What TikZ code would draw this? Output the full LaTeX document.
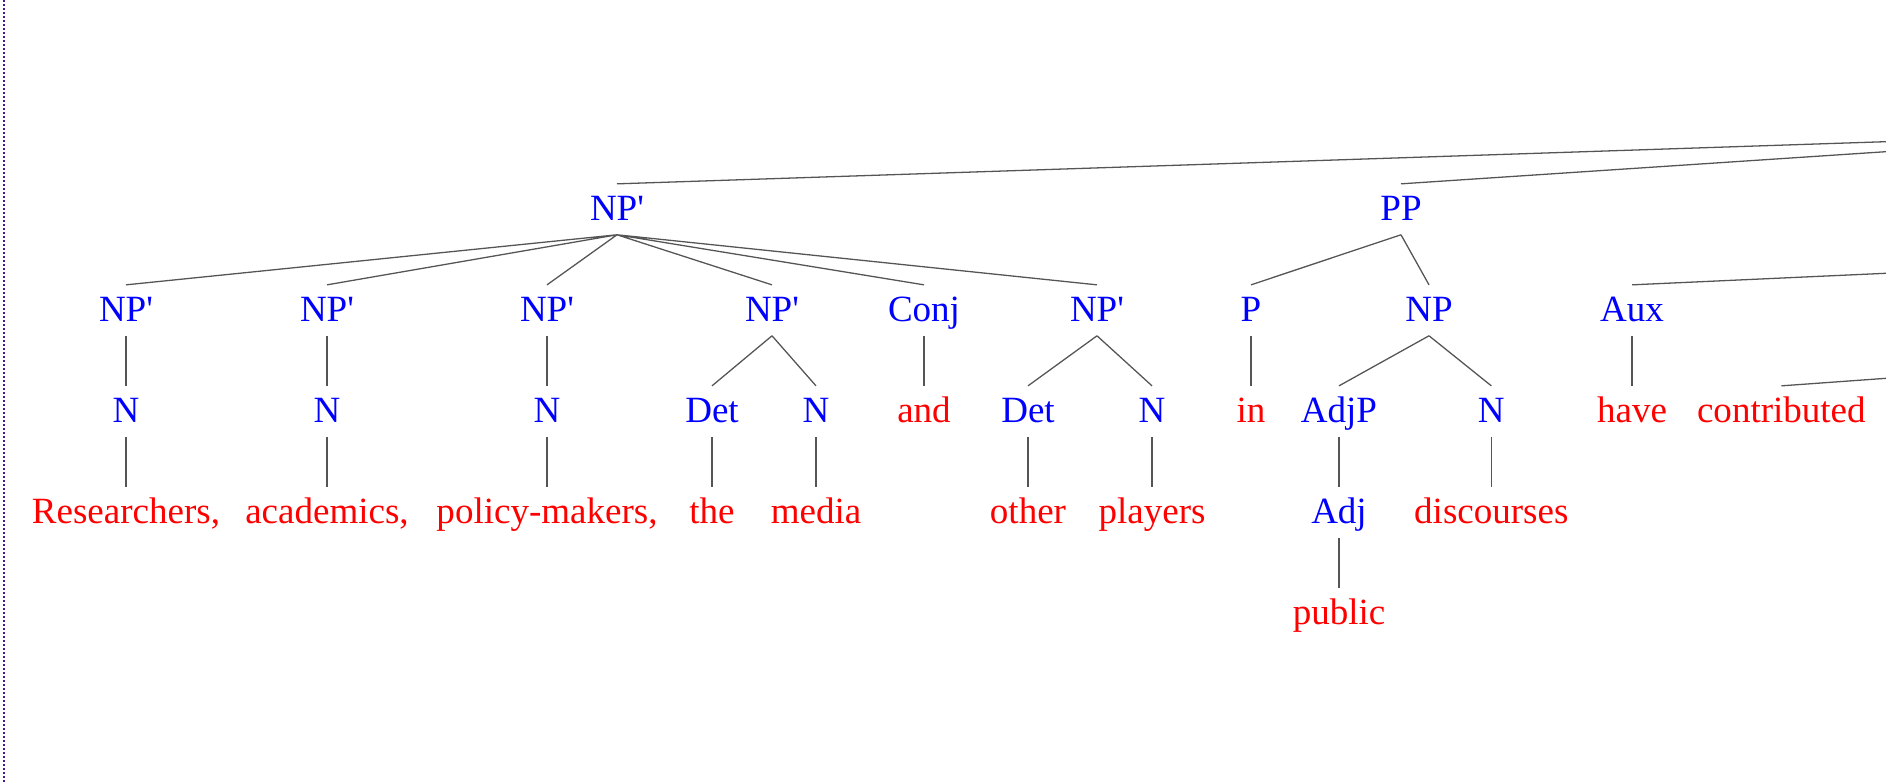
\documentclass[tikz,border=0pt]{standalone}
\usepackage{fontspec}
\setmainfont{Liberation Serif}
\usepackage{tikz}

\definecolor{catblue}{RGB}{0,0,255}
\definecolor{wordred}{RGB}{255,0,0}
\definecolor{branchgray}{RGB}{85,85,85}
\definecolor{framepurple}{RGB}{75,25,140}

\begin{document}
\begin{tikzpicture}[
  lbl/.style={anchor=base, inner sep=0pt, text height=0.55cm, text depth=0.2cm, font=\fontsize{15.8}{18}\selectfont},
  cat/.style={lbl, text=catblue},
  word/.style={lbl, text=wordred},
  branch/.style={draw=branchgray, line width=0.55pt}]
\useasboundingbox (0,0) rectangle (28.29,11.76);
\draw[framepurple, line width=0.03cm, dash pattern=on 0.03cm off 0.03cm] (0.06,11.76) -- (0.06,0);

% Nível 0
\node[cat] (np1) at (9.255,8.445) {NP\textquotesingle};
\node[cat] (pp) at (21.015,8.445) {PP};

% Nível 1
\node[cat] (npA) at (1.89,6.93) {NP\textquotesingle};
\node[cat] (npB) at (4.905,6.93) {NP\textquotesingle};
\node[cat] (npC) at (8.205,6.93) {NP\textquotesingle};
\node[cat] (npD) at (11.58,6.93) {NP\textquotesingle};
\node[cat] (conj) at (13.86,6.93) {Conj};
\node[cat] (npE) at (16.455,6.93) {NP\textquotesingle};
\node[cat] (p) at (18.765,6.93) {P};
\node[cat] (np) at (21.435,6.93) {NP};
\node[cat] (aux) at (24.48,6.93) {Aux};

% Nível 2
\node[cat] (nA) at (1.89,5.415) {N};
\node[cat] (nB) at (4.905,5.415) {N};
\node[cat] (nC) at (8.205,5.415) {N};
\node[cat] (detD) at (10.68,5.415) {Det};
\node[cat] (nD) at (12.24,5.415) {N};
\node[word] (and) at (13.86,5.415) {and};
\node[cat] (detE) at (15.42,5.415) {Det};
\node[cat] (nE) at (17.28,5.415) {N};
\node[word] (in) at (18.765,5.415) {in};
\node[cat] (adjp) at (20.085,5.415) {AdjP};
\node[cat] (nF) at (22.37,5.415) {N};
\node[word] (have) at (24.48,5.415) {have};
\node[word] (contrib) at (26.72,5.415) {contributed};

% Nível 3
\node[word] (researchers) at (1.89,3.90) {Researchers,};
\node[word] (academics) at (4.905,3.90) {academics,};
\node[word] (policymakers) at (8.205,3.90) {policy-makers,};
\node[word] (the) at (10.68,3.90) {the};
\node[word] (media) at (12.24,3.90) {media};
\node[word] (other) at (15.42,3.90) {other};
\node[word] (players) at (17.28,3.90) {players};
\node[cat] (adj) at (20.085,3.90) {Adj};
\node[word] (discourses) at (22.37,3.90) {discourses};

% Nível 4
\node[word] (public) at (20.085,2.385) {public};

% Pais fora da figura (borda direita)
\coordinate (upS) at (28.29,9.6345);
\coordinate (upS2) at (28.29,9.4845);
\coordinate (upVP) at (28.29,7.6605);
\coordinate (upV) at (28.29,6.085);

\draw[branch] (np1.north) -- (upS);
\draw[branch] (pp.north) -- (upS2);
\draw[branch] (aux.north) -- (upVP);
\draw[branch] (contrib.north) -- (upV);

\draw[branch] (np1.south) -- (npA.north) (np1.south) -- (npB.north) (np1.south) -- (npC.north)
  (np1.south) -- (npD.north) (np1.south) -- (conj.north) (np1.south) -- (npE.north);
\draw[branch] (pp.south) -- (p.north) (pp.south) -- (np.north);

\draw[branch] (npA.south) -- (nA.north) (npB.south) -- (nB.north) (npC.south) -- (nC.north);
\draw[branch] (npD.south) -- (detD.north) (npD.south) -- (nD.north);
\draw[branch] (conj.south) -- (and.north);
\draw[branch] (npE.south) -- (detE.north) (npE.south) -- (nE.north);
\draw[branch] (p.south) -- (in.north);
\draw[branch] (np.south) -- (adjp.north) (np.south) -- (nF.north);
\draw[branch] (aux.south) -- (have.north);

\draw[branch] (nA.south) -- (researchers.north) (nB.south) -- (academics.north) (nC.south) -- (policymakers.north);
\draw[branch] (detD.south) -- (the.north) (nD.south) -- (media.north);
\draw[branch] (detE.south) -- (other.north) (nE.south) -- (players.north);
\draw[branch] (adjp.south) -- (adj.north) (nF.south) -- (discourses.north);
\draw[branch] (adj.south) -- (public.north);
\end{tikzpicture}
\end{document}
